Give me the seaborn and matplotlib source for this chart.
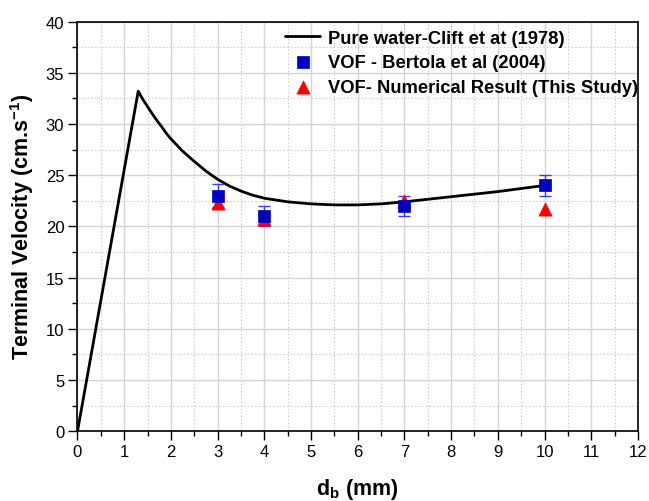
import matplotlib
matplotlib.use("Agg")
import matplotlib.pyplot as plt
from matplotlib.ticker import MultipleLocator
import seaborn as sns
import pandas as pd

# Clift et al. (1978) pure-water terminal velocity curve
clift_d = [0, 1.3, 1.4, 1.5, 1.6, 1.7, 1.8, 1.9, 2.0, 2.25, 2.5, 2.75, 3.0, 3.25, 3.5, 3.75,
           4.0, 4.5, 5.0, 5.5, 6.0, 6.5, 7.0, 7.5, 8.0, 8.5, 9.0, 9.5, 10.0]
clift_v = [0, 33.2, 32.4, 31.7, 31.0, 30.35, 29.75, 29.1, 28.55, 27.35, 26.35, 25.4, 24.6, 23.95, 23.45, 23.05,
           22.75, 22.4, 22.2, 22.1, 22.1, 22.2, 22.4, 22.65, 22.9, 23.15, 23.4, 23.7, 24.0]

# Bertola et al. (2004) data with error
bertola_d = [3, 4, 7, 10]
bertola_v = [23.0, 21.0, 22.0, 24.0]
bertola_err = [1.1, 1.0, 1.0, 1.0]

# Present VOF numerical results
vof_d = [3, 4, 7, 10]
vof_v = [22.3, 20.7, 22.5, 21.7]

sns.set_theme(style="white")
plt.rcParams["font.family"] = ["Liberation Sans", "DejaVu Sans"]
plt.rcParams["text.color"] = "black"
plt.rcParams["axes.labelcolor"] = "black"

fig = plt.figure(figsize=(6.49, 5.02), dpi=100)
ax = fig.add_axes([0.1194, 0.139, 0.8636, 0.816])

clift = pd.DataFrame({"d": clift_d, "v": clift_v})
bertola = pd.DataFrame({"d": bertola_d, "v": bertola_v})
vof = pd.DataFrame({"d": vof_d, "v": vof_v})

sns.lineplot(data=clift, x="d", y="v", ax=ax, color="black", linewidth=2,
             sort=False, label="Pure water-Clift et at (1978)", zorder=3)
ax.errorbar(bertola_d, bertola_v, yerr=bertola_err, fmt="none", ecolor="#3a3aff",
            elinewidth=1, capsize=4, capthick=1, zorder=4)
sns.scatterplot(data=vof, x="d", y="v", ax=ax, marker="^", color="#ff0000", s=90,
                edgecolor="#ff0000", linewidth=0.5, zorder=4,
                label="VOF- Numerical Result (This Study)")
sns.scatterplot(data=bertola, x="d", y="v", ax=ax, marker="s", color="#0000c0", s=65,
                edgecolor="#0000c0", linewidth=0.5, zorder=5,
                label="VOF - Bertola et al (2004)")

ax.set_xlim(0, 12)
ax.set_ylim(0, 40)
ax.xaxis.set_major_locator(MultipleLocator(1))
ax.xaxis.set_minor_locator(MultipleLocator(0.5))
ax.yaxis.set_major_locator(MultipleLocator(5))
ax.yaxis.set_minor_locator(MultipleLocator(2.5))

ax.grid(which="major", color="#d4d4d4", linestyle="-", linewidth=1.0)
ax.grid(which="minor", color="#c8c8c8", linestyle=(0, (1.2, 2.0)), linewidth=0.8)
ax.set_axisbelow(True)

for side in ["left", "bottom", "top", "right"]:
    ax.spines[side].set_visible(True)
    ax.spines[side].set_color("black")
    ax.spines[side].set_linewidth(1.2)

ax.tick_params(which="major", direction="out", length=6.5, width=1, color="black",
               labelsize=12, labelcolor="black", bottom=True, left=True, top=False, right=False, pad=3)
ax.tick_params(which="minor", direction="out", length=3.5, width=1, color="black",
               bottom=True, left=True, top=False, right=False)

ax.set_xlabel(r"d$_\mathregular{b}$ (mm)", fontsize=15.5, fontweight="bold", labelpad=12, color="black")
ax.set_ylabel(r"Terminal Velocity (cm.s$^\mathregular{-1}$)", fontsize=15.5, fontweight="bold",
              labelpad=7, color="black")

handles, labels = ax.get_legend_handles_labels()
order = [labels.index("Pure water-Clift et at (1978)"),
         labels.index("VOF - Bertola et al (2004)"),
         labels.index("VOF- Numerical Result (This Study)")]
leg = ax.legend([handles[i] for i in order], [labels[i] for i in order],
                loc="upper right", frameon=False, prop={"weight": "bold", "size": 13.2},
                handlelength=1.9, handletextpad=0.4, labelspacing=0.42,
                borderaxespad=0.1, bbox_to_anchor=(1.016, 1.003))
for t in leg.get_texts():
    t.set_color("black")

fig.savefig("out.png", dpi=100)
